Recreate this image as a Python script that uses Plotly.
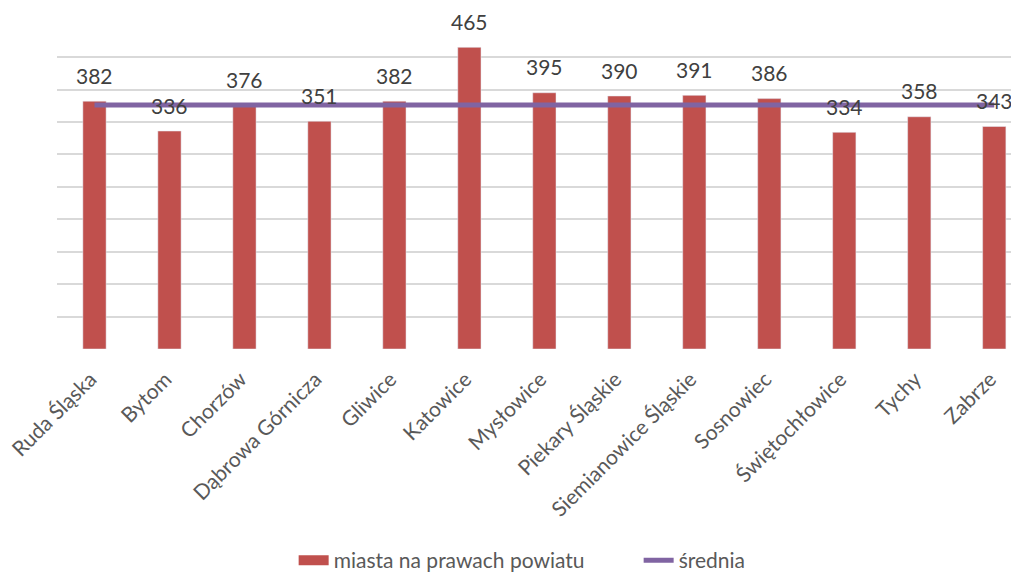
import plotly.graph_objects as go

miasta = ["Ruda Śląska", "Bytom", "Chorzów", "Dąbrowa Górnicza", "Gliwice", "Katowice",
          "Mysłowice", "Piekary Śląskie", "Siemianowice Śląskie", "Sosnowiec",
          "Świętochłowice", "Tychy", "Zabrze"]
wartosci = [382, 336, 376, 351, 382, 465, 395, 390, 391, 386, 334, 358, 343]
srednia = [376, 376, 376, 376, 376, 376, 376, 376, 376, 376, 376, 376, 376]

font_name = "Lato"
red = "#C0504D"
purple = "#8064A2"

fig = go.Figure()
fig.add_trace(go.Bar(x=miasta, y=wartosci, name="miasta na prawach powiatu",
                     marker_color=red, width=0.31, showlegend=False))
# legend entry drawn as a wide block, like the Excel legend
fig.add_trace(go.Scatter(x=[miasta[0]], y=[None], mode="lines", name="miasta na prawach powiatu",
                         line=dict(color=red, width=11)))
fig.add_trace(go.Scatter(x=miasta, y=srednia, name="średnia", mode="lines",
                         line=dict(color=purple, width=5)))

# value labels above the bars
for m, v in zip(miasta, wartosci):
    fig.add_annotation(x=m, y=v, text=str(v), showarrow=False, yanchor="middle",
                       yshift=26, font=dict(family=font_name, size=21, color="#404040"))

# the page body has an 8px margin, so the figure is 8px smaller
fig.update_layout(
    width=1011, height=573,
    margin=dict(l=49, r=0, t=16, b=232),
    plot_bgcolor="white", paper_bgcolor="white",
    font=dict(family=font_name, size=21, color="#595959"),
    legend=dict(orientation="h", x=0.246, xanchor="left", yref="container",
                y=0, yanchor="bottom",
                font=dict(size=21, color="#595959"), entrywidth=300, traceorder="normal"),
    showlegend=True,
)
fig.update_xaxes(range=[-0.5, 12.33], tickangle=-45, showline=False, ticks="",
                 tickfont=dict(size=21, color="#595959"), automargin=False,
                 ticklabelstandoff=13, ticklabelshift=-4)
fig.update_yaxes(range=[0, 501], dtick=50, showticklabels=False, gridcolor="#D9D9D9",
                 gridwidth=1.5, zeroline=False, automargin=False)

fig.write_html("out.html")
